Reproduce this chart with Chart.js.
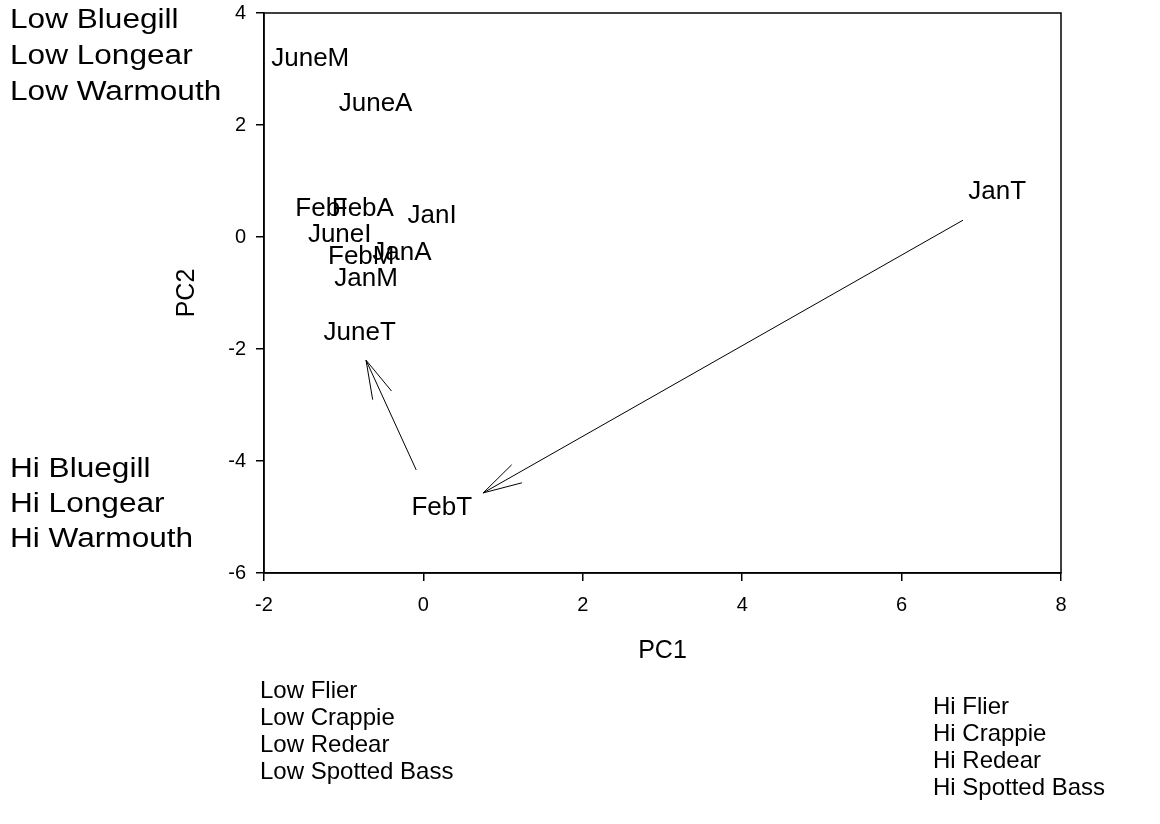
<!DOCTYPE html>
<html>
<head>
<meta charset="utf-8">
<title>PC1 / PC2</title>
<script src="https://cdn.jsdelivr.net/npm/chart.js@4.4.1/dist/chart.umd.min.js"></script>
<style>
  html, body { margin: 0; padding: 0; background: #fff; }
  #wrap { width: 1160px; height: 824px; }
</style>
</head>
<body>
<div id="wrap"><canvas id="pcaChart" width="1160" height="824"></canvas></div>
<script>
// sample scores on the first two components
const sampleNames = ['JuneM', 'JuneA', 'FebI', 'FebA', 'JanI', 'JuneI', 'FebM', 'JanA', 'JanM', 'JuneT', 'FebT', 'JanT'];
const pc1Scores = [-1.42, -0.60, -1.28, -0.76, 0.11, -1.05, -0.78, -0.27, -0.72, -0.80, 0.23, 7.20];
const pc2Scores = [3.18, 2.37, 0.50, 0.50, 0.38, 0.03, -0.36, -0.29, -0.75, -1.71, -4.83, 0.80];

// movement arrows (start -> end), JanT to FebT and FebT to JuneT
const arrowStartX = [6.77, -0.09];
const arrowStartY = [0.30, -4.16];
const arrowEndX = [0.75, -0.72];
const arrowEndY = [-4.57, -2.20];

const xTicks = [-2, 0, 2, 4, 6, 8];
const yTicks = [-6, -4, -2, 0, 2, 4];

// loadings described along each axis
const leftTopNotes = ['Low Bluegill', 'Low Longear', 'Low Warmouth'];
const leftBottomNotes = ['Hi Bluegill', 'Hi Longear', 'Hi Warmouth'];
const bottomLeftNotes = ['Low Flier', 'Low Crappie', 'Low Redear', 'Low Spotted Bass'];
const bottomRightNotes = ['Hi Flier', 'Hi Crappie', 'Hi Redear', 'Hi Spotted Bass'];

const FONT = '"Liberation Sans", Arial, sans-serif';

const points = sampleNames.map((name, i) => ({ x: pc1Scores[i], y: pc2Scores[i], name: name }));

const arrowSets = arrowStartX.map((x0, i) => ({
    type: 'scatter',
    showLine: true,
    data: [{ x: x0, y: arrowStartY[i] }, { x: arrowEndX[i], y: arrowEndY[i] }],
    borderColor: '#000',
    borderWidth: 1,
    pointRadius: 0,
    arrow: true
}));

// writes each sample name centred on its score
const pointLabels = {
    id: 'pointLabels',
    afterDatasetsDraw(chart) {
        const ctx = chart.ctx;
        const meta = chart.getDatasetMeta(0);
        ctx.save();
        ctx.font = '26px ' + FONT;
        ctx.fillStyle = '#000';
        ctx.textAlign = 'center';
        ctx.textBaseline = 'middle';
        meta.data.forEach((el, i) => {
            ctx.fillText(points[i].name, el.x, el.y);
        });
        ctx.restore();
    }
};

// open arrowheads on the end of each movement line
const arrowHeads = {
    id: 'arrowHeads',
    afterDatasetsDraw(chart) {
        const ctx = chart.ctx;
        ctx.save();
        ctx.strokeStyle = '#000';
        ctx.lineWidth = 1;
        chart.data.datasets.forEach((ds, i) => {
            if (!ds.arrow) return;
            const pts = chart.getDatasetMeta(i).data;
            const a = pts[0], b = pts[1];
            const ang = Math.atan2(a.y - b.y, a.x - b.x);
            const len = 40, spread = Math.PI / 12;
            ctx.beginPath();
            [ang - spread, ang + spread].forEach(t => {
                ctx.moveTo(b.x, b.y);
                ctx.lineTo(b.x + len * Math.cos(t), b.y + len * Math.sin(t));
            });
            ctx.stroke();
        });
        ctx.restore();
    }
};

// block of note lines, widened a little sideways
function drawNotes(ctx, lines, x, y, step, size, widen) {
    ctx.save();
    ctx.translate(x, 0);
    ctx.scale(widen, 1);
    ctx.font = size + 'px ' + FONT;
    lines.forEach((t, i) => ctx.fillText(t, 0, y + i * step));
    ctx.restore();
}

// frame round the plot plus the side notes
const frameAndNotes = {
    id: 'frameAndNotes',
    afterDraw(chart) {
        const ctx = chart.ctx;
        const area = chart.chartArea;
        ctx.save();
        ctx.strokeStyle = '#000';
        ctx.lineWidth = 1.5;
        ctx.strokeRect(area.left, area.top, area.right - area.left, area.bottom - area.top);

        ctx.fillStyle = '#000';
        ctx.textAlign = 'left';
        ctx.textBaseline = 'alphabetic';
        drawNotes(ctx, leftTopNotes, 10, 28, 36, 27, 1.17);
        drawNotes(ctx, leftBottomNotes, 10, 477, 35, 27, 1.17);
        drawNotes(ctx, bottomLeftNotes, 260, 698, 27, 24, 1.0);
        drawNotes(ctx, bottomRightNotes, 933, 714, 27, 24, 1.0);
        ctx.restore();
    }
};

const axisGrid = {
    display: true,
    drawOnChartArea: false,
    drawTicks: true,
    tickLength: 8,
    color: '#000',
    lineWidth: 1.5
};

new Chart(document.getElementById('pcaChart').getContext('2d'), {
    type: 'scatter',
    data: {
        datasets: [{
            data: points,
            pointRadius: 0,
            pointHoverRadius: 0,
            borderWidth: 0
        }].concat(arrowSets)
    },
    options: {
        responsive: false,
        animation: false,
        events: [],
        layout: { padding: { left: 0, right: 99, top: 13, bottom: 0 } },
        plugins: {
            legend: { display: false },
            tooltip: { enabled: false }
        },
        scales: {
            x: {
                type: 'linear',
                min: -2,
                max: 8,
                afterBuildTicks: s => { s.ticks = xTicks.map(v => ({ value: v })); },
                afterFit: s => { s.height = 251; s.paddingLeft = 0; s.paddingRight = 0; },
                ticks: { color: '#000', font: { family: FONT, size: 20 }, padding: 12 },
                grid: axisGrid,
                border: { display: true, color: '#000', width: 1.5 },
                title: {
                    display: true,
                    text: 'PC1',
                    color: '#000',
                    font: { family: FONT, size: 25 },
                    padding: { top: 0, bottom: 158 }
                }
            },
            y: {
                type: 'linear',
                min: -6,
                max: 4,
                afterBuildTicks: s => { s.ticks = yTicks.map(v => ({ value: v })); },
                afterFit: s => { s.width = 264; s.paddingTop = 0; s.paddingBottom = 0; },
                ticks: { color: '#000', font: { family: FONT, size: 20 }, padding: 10 },
                grid: axisGrid,
                border: { display: true, color: '#000', width: 1.5 },
                title: {
                    display: true,
                    text: 'PC2',
                    color: '#000',
                    font: { family: FONT, size: 25 },
                    padding: { top: 172, bottom: 0 }
                }
            }
        }
    },
    plugins: [pointLabels, arrowHeads, frameAndNotes]
});
</script>
</body>
</html>
